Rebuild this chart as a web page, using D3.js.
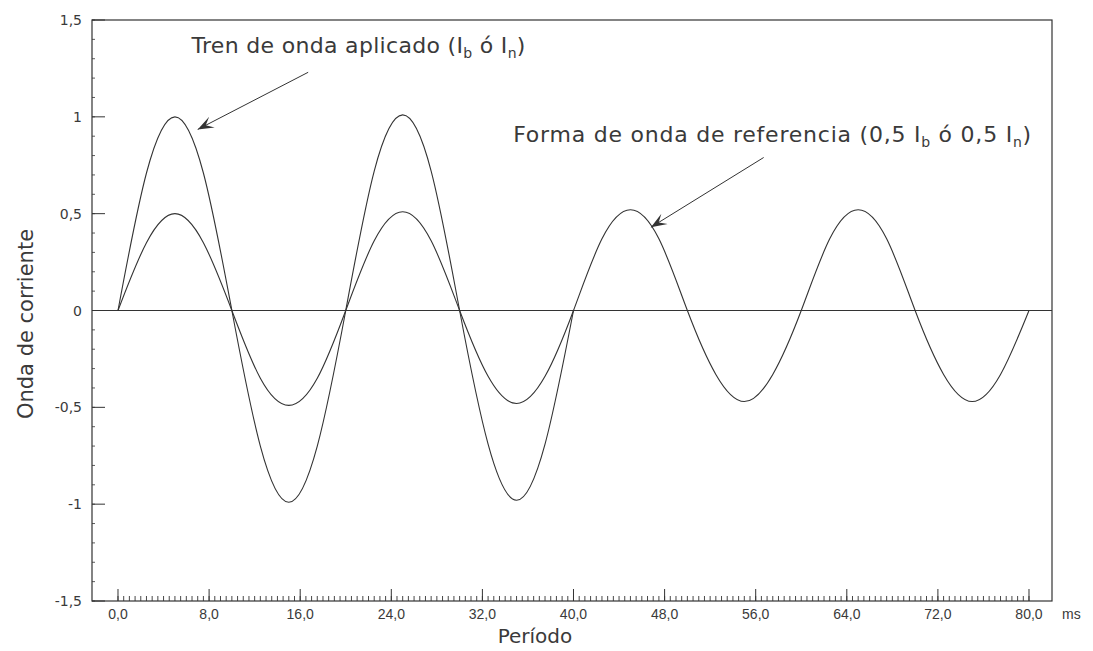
<!DOCTYPE html>
<html>
<head>
<meta charset="utf-8">
<script src="https://cdnjs.cloudflare.com/ajax/libs/d3/7.8.5/d3.min.js"></script>
<style>
	body { margin: 0; background: #fff; }
	svg { display: block; font-family: "DejaVu Sans", Verdana, sans-serif; }
	text { fill: #3a3a3a; }
	.x-axis text, .ms { font-family: "Liberation Sans", Arial, sans-serif; }
</style>
</head>
<body>
<svg id="chart" width="1093" height="651"></svg>
<script>
// sample times (ms), read every 2.5 ms along the x axis
var timeMs = [0, 2.5, 5, 7.5, 10, 12.5, 15, 17.5, 20, 22.5, 25, 27.5, 30, 32.5, 35, 37.5,
	40, 42.5, 45, 47.5, 50, 52.5, 55, 57.5, 60, 62.5, 65, 67.5, 70, 72.5, 75, 77.5, 80];

// Tren de onda aplicado (Ib ó In) -- only the first 40 ms
var appliedWave = [0, 0.71, 1.00, 0.71, 0, -0.70, -0.99, -0.70,
	0, 0.72, 1.01, 0.72, 0, -0.69, -0.98, -0.69, 0];

// Forma de onda de referencia (0,5 Ib ó 0,5 In) -- whole 80 ms
var referenceWave = [0, 0.35, 0.50, 0.35, 0, -0.35, -0.49, -0.35,
	0, 0.36, 0.51, 0.36, 0, -0.34, -0.48, -0.34,
	0, 0.37, 0.52, 0.37, 0, -0.33, -0.47, -0.33,
	0, 0.37, 0.52, 0.37, 0, -0.33, -0.47, -0.33, 0];

var xTicks = [0, 8, 16, 24, 32, 40, 48, 56, 64, 72, 80];
var xTickLabels = ["0,0", "8,0", "16,0", "24,0", "32,0", "40,0", "48,0", "56,0", "64,0", "72,0", "80,0"];
var yTicks = [1.5, 1, 0.5, 0, -0.5, -1, -1.5];
var yTickLabels = ["1,5", "1", "0,5", "0", "-0,5", "-1", "-1,5"];

// annotations in data units: label anchor and arrow from/to
var annotations = [
	{ main: "Tren de onda aplicado (I", sub1: "b", mid: " ó I", sub2: "n", end: ")",
	  tx: 6.45, ty: 1.33, len: 334, x1: 16.7, y1: 1.23, x2: 7.0, y2: 0.935 },
	{ main: "Forma de onda de referencia (0,5 I", sub1: "b", mid: " ó 0,5 I", sub2: "n", end: ")",
	  tx: 34.7, ty: 0.87, len: 518, x1: 56.7, y1: 0.79, x2: 46.8, y2: 0.43 }
];

var frame = { left: 92, right: 1052, top: 20, bottom: 601 };

var svg = d3.select("#chart");

var x = d3.scaleLinear()
	.domain([-2.283, 82.02])
	.range([frame.left, frame.right]);

var y = d3.scaleLinear()
	.domain([-1.5, 1.5])
	.range([frame.bottom, frame.top]);

var ink = "#333";

// frame
svg.append("rect")
	.attr("x", frame.left)
	.attr("y", frame.top)
	.attr("width", frame.right - frame.left)
	.attr("height", frame.bottom - frame.top)
	.attr("fill", "none")
	.attr("stroke", ink)
	.attr("stroke-width", 1.2);

// zero line
svg.append("line")
	.attr("x1", frame.left).attr("x2", frame.right)
	.attr("y1", y(0)).attr("y2", y(0))
	.attr("stroke", ink)
	.attr("stroke-width", 1.1);

// x axis: minor + major ticks pointing inward
var xMinor = d3.range(0, 80.01, 0.5);
svg.append("g").attr("class", "x-minor")
	.selectAll("line").data(xMinor).enter().append("line")
	.attr("x1", function(d){ return x(d); })
	.attr("x2", function(d){ return x(d); })
	.attr("y1", frame.bottom)
	.attr("y2", frame.bottom - 5)
	.attr("stroke", ink)
	.attr("stroke-width", 0.9);

var xAxis = svg.append("g").attr("class", "x-axis");
xAxis.selectAll("line").data(xTicks).enter().append("line")
	.attr("x1", function(d){ return x(d); })
	.attr("x2", function(d){ return x(d); })
	.attr("y1", frame.bottom)
	.attr("y2", frame.bottom - 12)
	.attr("stroke", ink)
	.attr("stroke-width", 1);
xAxis.selectAll("text").data(xTicks).enter().append("text")
	.attr("x", function(d){ return x(d); })
	.attr("y", 619)
	.attr("text-anchor", "middle")
	.style("font-size", "14px")
	.text(function(d, i){ return xTickLabels[i]; });

svg.append("text")
	.attr("class", "ms")
	.attr("x", frame.right + 10)
	.attr("y", 619)
	.style("font-size", "14px")
	.text("ms");

// y axis
var yMinor = d3.range(-1.5, 1.501, 0.1);
svg.append("g").attr("class", "y-minor")
	.selectAll("line").data(yMinor).enter().append("line")
	.attr("x1", frame.left)
	.attr("x2", frame.left + 3)
	.attr("y1", function(d){ return y(d); })
	.attr("y2", function(d){ return y(d); })
	.attr("stroke", ink)
	.attr("stroke-width", 0.8);

var yAxis = svg.append("g").attr("class", "y-axis");
yAxis.selectAll("line").data(yTicks).enter().append("line")
	.attr("x1", frame.left)
	.attr("x2", frame.left + 13)
	.attr("y1", function(d){ return y(d); })
	.attr("y2", function(d){ return y(d); })
	.attr("stroke", ink)
	.attr("stroke-width", 1);
yAxis.selectAll("text").data(yTicks).enter().append("text")
	.attr("x", frame.left - 10)
	.attr("y", function(d){ return y(d) + 5; })
	.attr("text-anchor", "end")
	.style("font-size", "14px")
	.text(function(d, i){ return yTickLabels[i]; });

// axis titles
svg.append("text")
	.attr("transform", "translate(33," + 324 + ") rotate(-90)")
	.attr("text-anchor", "middle")
	.style("font-size", "21px")
	.text("Onda de corriente");

svg.append("text")
	.attr("x", 535)
	.attr("y", 643)
	.attr("text-anchor", "middle")
	.style("font-size", "20px")
	.text("Período");

// waves
var line = d3.line()
	.x(function(d){ return x(d[0]); })
	.y(function(d){ return y(d[1]); })
	.curve(d3.curveNatural);

var series = [appliedWave, referenceWave];
svg.append("g").attr("class", "waves")
	.selectAll("path").data(series).enter().append("path")
	.attr("d", function(s){
		return line(s.map(function(v, i){ return [timeMs[i], v]; }));
	})
	.attr("fill", "none")
	.attr("stroke", ink)
	.attr("stroke-width", 1.1);

// arrow head
svg.append("defs").append("marker")
	.attr("id", "barb")
	.attr("viewBox", "-16 -7 18 14")
	.attr("refX", 0)
	.attr("refY", 0)
	.attr("markerWidth", 18)
	.attr("markerHeight", 14)
	.attr("markerUnits", "userSpaceOnUse")
	.attr("orient", "auto")
	.append("path")
	.attr("d", "M0,0 L-16,-6 L-9,0 L-16,6 Z")
	.attr("fill", ink);

var notes = svg.append("g").attr("class", "notes");
notes.selectAll("line").data(annotations).enter().append("line")
	.attr("x1", function(d){ return x(d.x1); })
	.attr("y1", function(d){ return y(d.y1); })
	.attr("x2", function(d){ return x(d.x2); })
	.attr("y2", function(d){ return y(d.y2); })
	.attr("stroke", ink)
	.attr("stroke-width", 1)
	.attr("marker-end", "url(#barb)");

var labels = notes.selectAll("text").data(annotations).enter().append("text")
	.attr("x", function(d){ return x(d.tx); })
	.attr("y", function(d){ return y(d.ty); })
	.attr("textLength", function(d){ return d.len; })
	.style("font-size", "22px");
labels.each(function(d){
	var t = d3.select(this);
	t.append("tspan").text(d.main);
	t.append("tspan").attr("dy", 5).style("font-size", "14px").text(d.sub1);
	t.append("tspan").attr("dy", -5).text(d.mid);
	t.append("tspan").attr("dy", 5).style("font-size", "14px").text(d.sub2);
	t.append("tspan").attr("dy", -5).text(d.end);
});
</script>
</body>
</html>
